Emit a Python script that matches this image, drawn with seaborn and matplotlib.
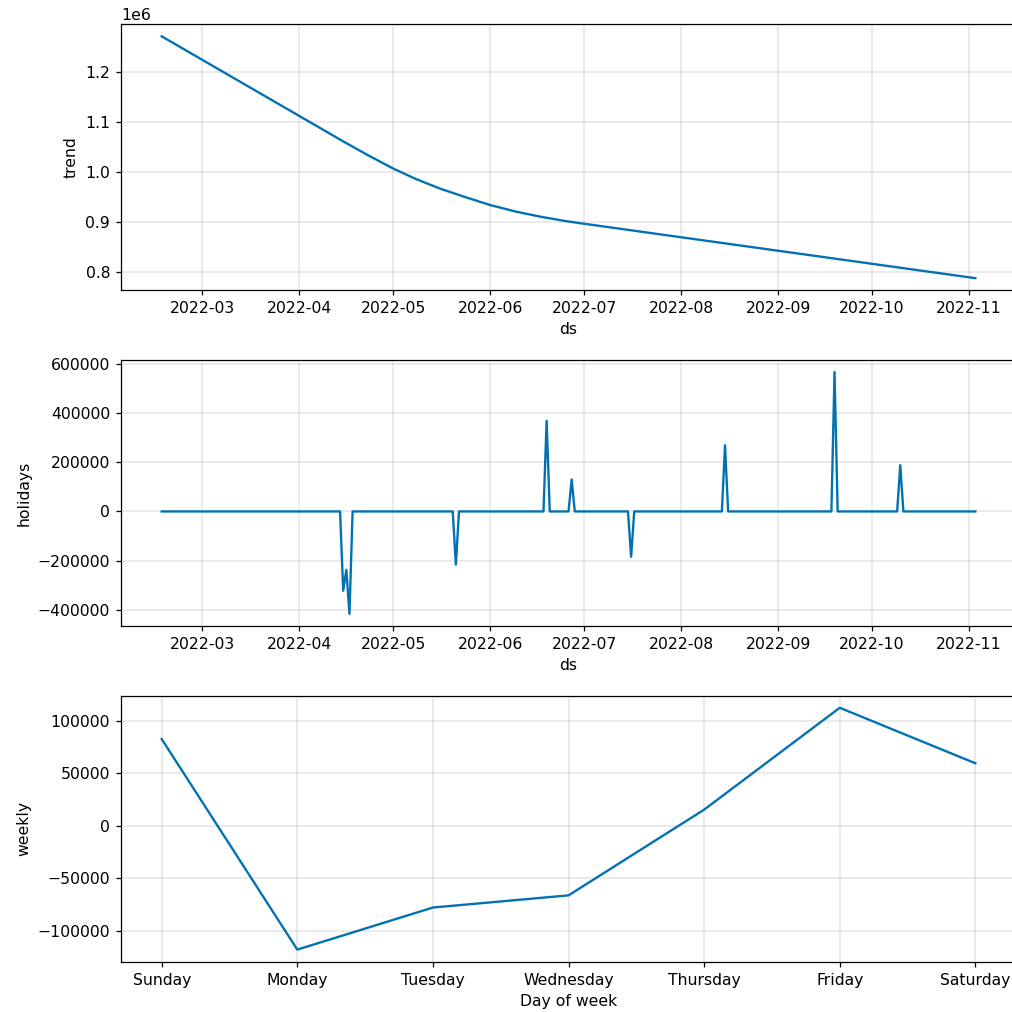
import numpy as np
import pandas as pd
import matplotlib
matplotlib.use("Agg")
import matplotlib.pyplot as plt
import matplotlib.dates as mdates
import seaborn as sns

LINE_COLOR = "#0072B2"

# Trend component (knots of the piecewise-linear trend)
trend_dates = ["2022-02-16", "2022-04-15", "2022-04-23", "2022-05-01", "2022-05-08",
               "2022-05-16", "2022-05-24", "2022-06-01", "2022-06-09", "2022-06-17",
               "2022-06-25", "2022-07-01", "2022-11-03"]
trend_values = [1.272e6, 1.0618e6, 1.0338e6, 1.0074e6, 0.9871e6,
                0.9671e6, 0.9503e6, 0.9343e6, 0.9215e6, 0.9111e6,
                0.9023e6, 0.8969e6, 0.788e6]

# Holiday effects (zero between holidays)
holiday_dates = ["2022-02-16",
                 "2022-04-14", "2022-04-15", "2022-04-16", "2022-04-17", "2022-04-18",
                 "2022-05-20", "2022-05-21", "2022-05-22",
                 "2022-06-18", "2022-06-19", "2022-06-20",
                 "2022-06-26", "2022-06-27", "2022-06-28",
                 "2022-07-15", "2022-07-16", "2022-07-17",
                 "2022-08-14", "2022-08-15", "2022-08-16",
                 "2022-09-18", "2022-09-19", "2022-09-20",
                 "2022-10-09", "2022-10-10", "2022-10-11",
                 "2022-11-03"]
holiday_values = [0,
                  0, -322000, -237000, -416000, 0,
                  0, -216000, 0,
                  0, 368000, 0,
                  0, 130000, 0,
                  0, -184000, 0,
                  0, 269000, 0,
                  0, 566000, 0,
                  0, 188000, 0,
                  0]

# Weekly seasonality
weekdays = ["Sunday", "Monday", "Tuesday", "Wednesday", "Thursday", "Friday", "Saturday"]
weekly_values = [82700, -118000, -77900, -66300, 15400, 112500, 59600]

trend_df = pd.DataFrame({"ds": pd.to_datetime(trend_dates), "trend": trend_values})
hol_df = pd.DataFrame({"ds": pd.to_datetime(holiday_dates), "holidays": holiday_values})
week_df = pd.DataFrame({"day": np.arange(len(weekdays)), "weekly": weekly_values})

fig, axes = plt.subplots(3, 1, figsize=(9, 9), dpi=112.45, facecolor="w")

def style(ax):
    ax.grid(True, which="major", c="gray", ls="-", lw=1, alpha=0.2)

ax = axes[0]
sns.lineplot(data=trend_df, x="ds", y="trend", ax=ax, color=LINE_COLOR, lw=1.5)
ax.xaxis.set_major_locator(mdates.MonthLocator())
ax.xaxis.set_major_formatter(mdates.DateFormatter("%Y-%m"))
ax.set_xlabel("ds")
ax.set_ylabel("trend")
style(ax)

ax = axes[1]
sns.lineplot(data=hol_df, x="ds", y="holidays", ax=ax, color=LINE_COLOR, lw=1.5)
ax.xaxis.set_major_locator(mdates.MonthLocator())
ax.xaxis.set_major_formatter(mdates.DateFormatter("%Y-%m"))
ax.set_xlabel("ds")
ax.set_ylabel("holidays")
style(ax)

ax = axes[2]
sns.lineplot(data=week_df, x="day", y="weekly", ax=ax, color=LINE_COLOR, lw=1.5)
ax.set_xticks(range(len(weekdays)))
ax.set_xticklabels(weekdays)
ax.set_xlabel("Day of week")
ax.set_ylabel("weekly")
style(ax)

# The right edge of the panels runs slightly past the canvas
fig.subplots_adjust(left=121 / 1012, right=1016 / 1012, top=1 - 24.3 / 1012,
                    bottom=1 - 961.7 / 1012, hspace=0.262)
fig.savefig("out.png", dpi=112.45, facecolor="w")
